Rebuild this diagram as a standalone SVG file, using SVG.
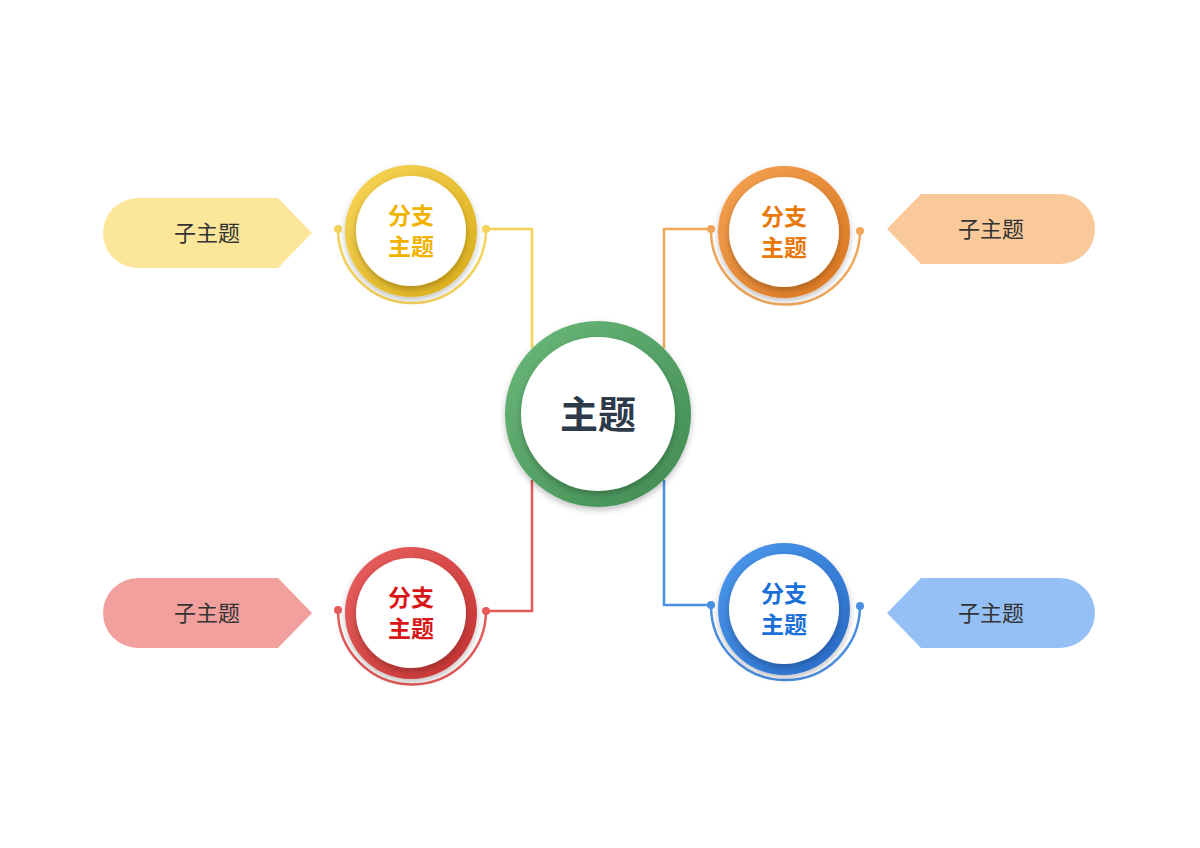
<svg xmlns="http://www.w3.org/2000/svg" width="1200" height="848" viewBox="0 0 1200 848">
<defs>
<style>
.sub{font-family:"Noto Sans CJK SC","Noto Sans",sans-serif;font-size:22px;fill:#333;text-anchor:middle}
.br{font-family:"Noto Sans CJK SC",sans-serif;font-size:23px;font-weight:bold;text-anchor:middle}
.ln{fill:none;stroke-width:2.5}
</style>
<filter id="sh" x="-30%" y="-30%" width="160%" height="160%"><feDropShadow dx="0" dy="3" stdDeviation="3" flood-color="#000" flood-opacity="0.25"/></filter>
<linearGradient id="gy" x1="0" y1="0" x2="1" y2="1"><stop offset="0" stop-color="#f8d658"/><stop offset="1" stop-color="#d9ab17"/></linearGradient>
<linearGradient id="go" x1="0" y1="0" x2="1" y2="1"><stop offset="0" stop-color="#f5a455"/><stop offset="1" stop-color="#d9741d"/></linearGradient>
<linearGradient id="gr" x1="0" y1="0" x2="1" y2="1"><stop offset="0" stop-color="#ea6262"/><stop offset="1" stop-color="#c3302f"/></linearGradient>
<linearGradient id="gb" x1="0" y1="0" x2="1" y2="1"><stop offset="0" stop-color="#4d9aee"/><stop offset="1" stop-color="#2768c6"/></linearGradient>
<linearGradient id="gg" x1="0" y1="0" x2="1" y2="1"><stop offset="0" stop-color="#6cb97b"/><stop offset="1" stop-color="#3f8a52"/></linearGradient>
</defs>
<g id="connectors">
<path class="ln" stroke="#f5d25a" d="M486,229 H532 V348"/>
<path class="ln" stroke="#f2a65a" d="M711,229 H664 V348"/>
<path class="ln" stroke="#e45a5a" d="M486,611 H532 V480"/>
<path class="ln" stroke="#4a90e2" d="M711,605 H664 V480"/>
</g>
<g id="center"><circle cx="598" cy="414" r="93" fill="url(#gg)" filter="url(#sh)"/><circle cx="598" cy="414" r="77" fill="#fff" filter="url(#sh)"/><text x="598" y="428" font-family="Noto Sans CJK SC,sans-serif" font-size="38" font-weight="bold" fill="#2d3a4a" text-anchor="middle">主题</text></g>
<g id="b1"><path class="ln" stroke="#f5d25a" d="M338,229 A74,74 0 1 0 486,229"/><circle cx="338" cy="229" r="4" fill="#f5d25a"/><circle cx="486" cy="229" r="4" fill="#f5d25a"/><circle cx="411" cy="231" r="66" fill="url(#gy)" filter="url(#sh)"/><circle cx="411" cy="231" r="55" fill="#fff" filter="url(#sh)"/><text class="br" fill="#f0b400"><tspan x="411" y="224">分支</tspan><tspan x="411" y="255">主题</tspan></text></g>
<g id="b2"><path class="ln" stroke="#f2a65a" d="M711,229 A74,74 0 1 0 860,231"/><circle cx="711" cy="229" r="4" fill="#f2a65a"/><circle cx="860" cy="231" r="4" fill="#f2a65a"/><circle cx="784" cy="232" r="66" fill="url(#go)" filter="url(#sh)"/><circle cx="784" cy="232" r="55" fill="#fff" filter="url(#sh)"/><text class="br" fill="#e8780a"><tspan x="784" y="225">分支</tspan><tspan x="784" y="256">主题</tspan></text></g>
<g id="b3"><path class="ln" stroke="#e45a5a" d="M338,610 A74,74 0 1 0 486,611"/><circle cx="338" cy="610" r="4" fill="#e45a5a"/><circle cx="486" cy="611" r="4" fill="#e45a5a"/><circle cx="411" cy="613" r="66" fill="url(#gr)" filter="url(#sh)"/><circle cx="411" cy="613" r="55" fill="#fff" filter="url(#sh)"/><text class="br" fill="#d81818"><tspan x="411" y="606">分支</tspan><tspan x="411" y="637">主题</tspan></text></g>
<g id="b4"><path class="ln" stroke="#4a90e2" d="M711,605 A74,74 0 1 0 860,606"/><circle cx="711" cy="605" r="4" fill="#4a90e2"/><circle cx="860" cy="606" r="4" fill="#4a90e2"/><circle cx="784" cy="609" r="66" fill="url(#gb)" filter="url(#sh)"/><circle cx="784" cy="609" r="55" fill="#fff" filter="url(#sh)"/><text class="br" fill="#1a6fd8"><tspan x="784" y="602">分支</tspan><tspan x="784" y="633">主题</tspan></text></g>
<g id="s1"><path d="M138,198 H278 L312,233 L278,268 H138 A35,35 0 0 1 138,198 Z" fill="#fce69a"/><text class="sub" x="207" y="241">子主题</text></g>
<g id="s2"><path d="M921,194 H1060 A35,35 0 0 1 1060,264 H921 L887,229 Z" fill="#f9c99a"/><text class="sub" x="991" y="237">子主题</text></g>
<g id="s3"><path d="M138,578 H278 L312,613 L278,648 H138 A35,35 0 0 1 138,578 Z" fill="#f2a09e"/><text class="sub" x="207" y="621">子主题</text></g>
<g id="s4"><path d="M921,578 H1060 A35,35 0 0 1 1060,648 H921 L887,613 Z" fill="#94c0f5"/><text class="sub" x="991" y="621">子主题</text></g>
</svg>
